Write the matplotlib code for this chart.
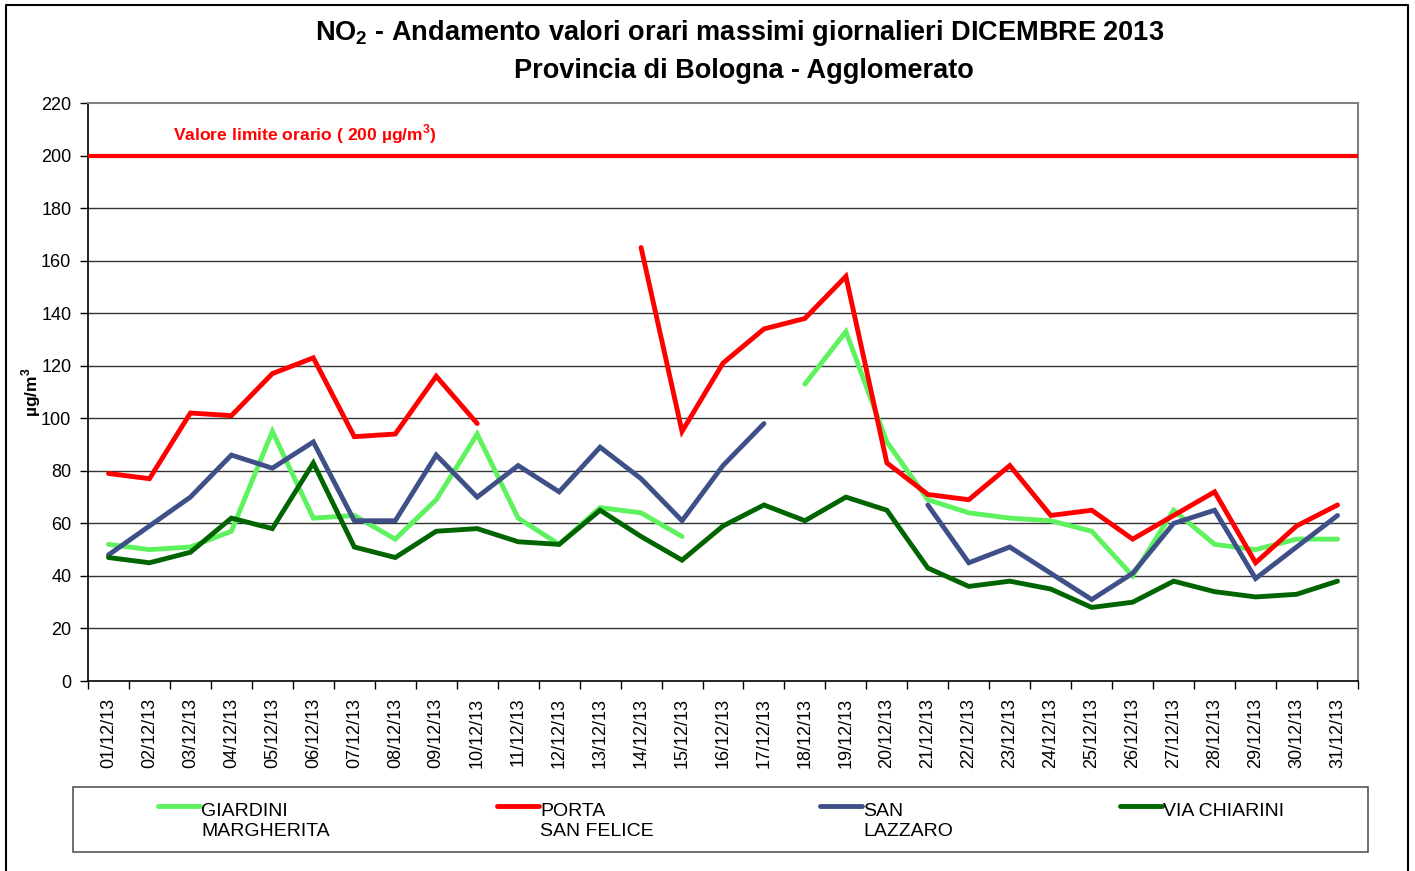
import numpy as np
import matplotlib
matplotlib.use("Agg")
import matplotlib.pyplot as plt
from matplotlib.lines import Line2D
from matplotlib.patches import Rectangle

plt.rcParams['font.family'] = ['Liberation Sans', 'DejaVu Sans']
plt.rcParams['mathtext.fontset'] = 'custom'
plt.rcParams['mathtext.rm'] = 'Liberation Sans'
plt.rcParams['mathtext.bf'] = 'Liberation Sans:bold'

nan = np.nan
dates = [f"{d:02d}/12/13" for d in range(1, 32)]

giardini = [52, 50, 51, 57, 95, 62, 63, 54, 69, 94, 62, 52, 66, 64, 55, nan, nan,
            113, 133, 91, 69, 64, 62, 61, 57, 40, 65, 52, 50, 54, 54]
porta = [79, 77, 102, 101, 117, 123, 93, 94, 116, 98, nan, nan, nan, 165, 95, 121, 134,
         138, 154, 83, 71, 69, 82, 63, 65, 54, 63, 72, 45, 59, 67]
san_lazzaro = [48, 59, 70, 86, 81, 91, 61, 61, 86, 70, 82, 72, 89, 77, 61, 82, 98,
               nan, nan, nan, 67, 45, 51, 41, 31, 41, 60, 65, 39, 51, 63]
chiarini = [47, 45, 49, 62, 58, 83, 51, 47, 57, 58, 53, 52, 65, 55, 46, 59, 67,
            61, 70, 65, 43, 36, 38, 35, 28, 30, 38, 34, 32, 33, 38]

series_names = ["GIARDINI\nMARGHERITA", "PORTA\nSAN FELICE", "SAN\nLAZZARO", "VIA CHIARINI"]
series_vals = [giardini, porta, san_lazzaro, chiarini]
series_colors = ["#5FF25F", "#FF0000", "#3F5088", "#006400"]

limit_value = 200
y_ticks = list(range(0, 221, 20))

W, H = 1415, 871
fig = plt.figure(figsize=(W / 100, H / 100), dpi=100)

ax = fig.add_axes([88 / W, 1 - 681 / H, (1358 - 88) / W, (681 - 103) / H])
x = np.arange(len(dates))

for yv in y_ticks[1:-1]:
    ax.axhline(yv, color="#333333", lw=1.0, zorder=1)

ax.axhline(limit_value, color="#FF0000", lw=3.0, zorder=3)
ax.text(1.57, 208, "Valore limite orario ( 200 µg/m$^{\\mathbf{3}}$)", color="#FF0000",
        fontsize=12.6, fontweight="bold", va="center", ha="left")

for vals, col in zip(series_vals, series_colors):
    ax.plot(x, vals, color=col, lw=3.5, solid_capstyle="round",
            solid_joinstyle="miter", zorder=4)

ax.set_xlim(-0.5, len(dates) - 0.5)
ax.set_ylim(0, 220)
ax.set_yticks(y_ticks)
ax.set_yticklabels([str(v) for v in y_ticks], fontsize=13)
ax.set_xticks(x)
ax.set_xticklabels(dates, rotation=90, fontsize=13)
ax.set_xticks(np.arange(-0.5, len(dates)), minor=True)
ax.tick_params(axis="x", which="major", length=0, pad=12)
ax.tick_params(axis="x", which="minor", length=6, width=1, color="black")
ax.tick_params(axis="y", length=6, width=1, pad=6)

for s in ["left", "bottom"]:
    ax.spines[s].set_color("black")
    ax.spines[s].set_linewidth(1.2)
for s in ["top", "right"]:
    ax.spines[s].set_color("#808080")
    ax.spines[s].set_linewidth(1.5)

ax.set_ylabel("µg/m$^{\\mathbf{3}}$", fontsize=12.5, fontweight="bold", labelpad=-1.5)

fig.text(740 / W, 1 - 33 / H, "NO$_{\\mathbf{2}}$ - Andamento valori orari massimi giornalieri DICEMBRE 2013",
         ha="center", va="center", fontsize=19.5, fontweight="bold")
fig.text(744 / W, 1 - 71 / H, "Provincia di Bologna - Agglomerato",
         ha="center", va="center", fontsize=19.5, fontweight="bold")

# Legend box
fig.add_artist(Rectangle((73 / W, 1 - 852 / H), (1368 - 73) / W, (852 - 787) / H,
                         transform=fig.transFigure, fill=False, edgecolor="#555555", lw=1.2))
leg_x = [158, 497, 820, 1120]
for lx, name, col in zip(leg_x, series_names, series_colors):
    fig.add_artist(Line2D([lx / W, (lx + 42) / W], [1 - 806 / H, 1 - 806 / H],
                          transform=fig.transFigure, color=col, lw=3.5, solid_capstyle="round"))
    fig.text((lx + 43) / W, 1 - 803 / H, name, ha="left", va="top", fontsize=14,
             linespacing=1.2)

# Outer border
fig.add_artist(Line2D([6 / W, 6 / W, 1408 / W, 1408 / W], [0, 1 - 5 / H, 1 - 5 / H, 0],
                      transform=fig.transFigure, color="black", lw=1.5))

fig.savefig("out.png", dpi=100)
